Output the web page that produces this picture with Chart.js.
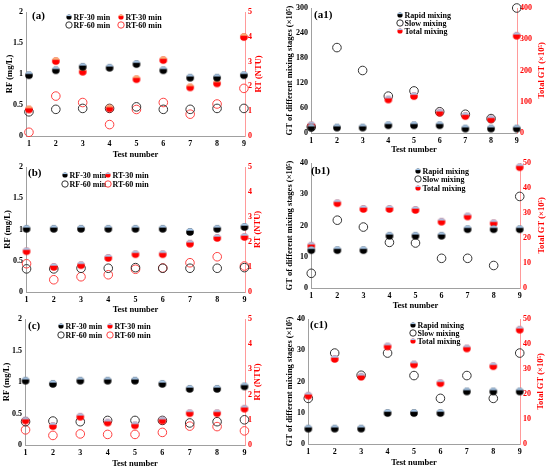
<!DOCTYPE html>
<html>
<head>
<meta charset="utf-8">
<script src="https://cdn.jsdelivr.net/npm/chart.js@4.4.1/dist/chart.umd.min.js"></script>
<style>
body{margin:0;background:#fff;width:550px;height:469px;position:relative;overflow:hidden}
canvas{position:absolute}
</style>
</head>
<body>
<canvas id="ca" width="265" height="160" style="left:0;top:0"></canvas>
<canvas id="ca1" width="273" height="155" style="left:275px;top:0"></canvas>
<canvas id="cb" width="264" height="160" style="left:0;top:155px"></canvas>
<canvas id="cb1" width="273" height="156" style="left:275px;top:155px"></canvas>
<canvas id="cc" width="264" height="159" style="left:0;top:310px"></canvas>
<canvas id="cc1" width="272" height="158" style="left:275px;top:310px"></canvas>
<script>
const testNo = [1, 2, 3, 4, 5, 6, 7, 8, 9];

// (a)
const rf30_a = [0.98, 1.06, 1.115, 1.10, 1.16, 1.06, 0.94, 0.94, 0.98];
const rf60_a = [0.39, 0.43, 0.445, 0.445, 0.47, 0.43, 0.43, 0.445, 0.445];
const rt30_a = [1.07, 3.02, 2.59, 1.11, 2.29, 3.06, 1.96, 2.12, 3.99];
const rt60_a = [0.15, 1.61, 1.35, 0.46, 1.07, 1.35, 0.88, 1.29, 1.92];
// (b)
const rf30_b = [1.01, 1.01, 1.01, 1.01, 1.01, 1.01, 0.96, 1.01, 1.04];
const rf60_b = [0.37, 0.37, 0.38, 0.38, 0.39, 0.38, 0.38, 0.38, 0.39];
const rt30_b = [1.63, 1.0, 1.07, 1.36, 1.51, 1.51, 1.93, 2.16, 2.2];
const rt60_b = [1.13, 0.49, 0.61, 0.69, 0.91, 0.96, 1.17, 1.41, 1.04];
// (c)
const rf30_c = [1.02, 0.97, 1.02, 1.02, 1.02, 0.97, 0.89, 0.89, 0.93];
const rf60_c = [0.37, 0.38, 0.37, 0.39, 0.39, 0.39, 0.35, 0.37, 0.40];
const rt30_c = [0.97, 0.75, 1.12, 0.89, 0.78, 0.97, 1.26, 1.26, 1.44];
const rt60_c = [0.6, 0.38, 0.44, 0.42, 0.42, 0.5, 0.75, 0.73, 0.56];
// (a1)
const rapid_a1 = [13, 13, 13, 18.5, 18.5, 18.5, 10.5, 10.5, 10.5];
const slow_a1 = [14.5, 205, 150, 88.5, 101, 51, 45, 34.6, 300];
const total_a1 = [24.7, null, null, 107, 118, 65, 54, 44, 311];
// (b1)
const rapid_b1 = [12.1, 12.1, 12.1, 16.7, 16.7, 16.7, 18.8, 18.8, 18.8];
const slow_b1 = [4.7, 21.7, 19.5, 14.6, 14.4, 9.5, 9.5, 7.2, 29.3];
const total_b1 = [16.9, 33.9, 31.6, 31.6, 31.2, 26.5, 28.6, 25.9, 48.3];
// (c1)
const rapid_c1 = [4.9, 4.9, 4.9, 9.9, 9.9, 9.9, 16.8, 16.8, 16.8];
const slow_c1 = [14.6, 29.1, 22, 29.1, 21.9, 14.6, 21.9, 14.6, 29.1];
const total_c1 = [19.3, 34.0, 26.9, 39.0, 31.8, 24.3, 38.2, 31.1, 45.7];

const FONT = "'Liberation Serif', 'Times New Roman', serif";
const BLUE = '#a9c9ea';
const PEACH = '#f7b27a';
const RED = '#ff0000';
const ORED = '#ff4040';

function dot(r, top, bot) {
    const c = document.createElement('canvas');
    const s = Math.ceil(r * 2) + 2;
    c.width = c.height = s;
    const g = c.getContext('2d');
    g.beginPath();
    g.arc(s / 2, s / 2, r, 0, Math.PI * 2);
    g.fillStyle = bot;
    g.fill();
    g.save();
    g.clip();
    g.fillStyle = top;
    g.fillRect(0, 0, s, s / 2 - r * 0.35);
    g.restore();
    return c;
}

const blackDot = dot(3.8, BLUE, '#000');
const redDotA = dot(3.8, PEACH, RED);
const redDot = dot(3.8, BLUE, RED);
const blackDotS = dot(2.6, BLUE, '#000');
const redDotSA = dot(2.6, PEACH, RED);
const redDotS = dot(2.6, BLUE, RED);

function pts(arr) {
    return testNo.map((x, i) => ({x: x, y: arr[i]})).filter(p => p.y !== null);
}

function filled(arr, img, axis) {
    return {data: pts(arr), yAxisID: axis, pointStyle: img, pointRadius: 4, showLine: false, clip: false};
}
function open(arr, col, axis) {
    return {data: pts(arr), yAxisID: axis, pointStyle: 'circle', pointRadius: 4.3,
        backgroundColor: 'rgba(0,0,0,0)', borderColor: col, pointBorderWidth: 1, showLine: false, clip: false};
}

// legend, panel label and right-hand axis title
const panelDeco = {
    id: 'panelDeco',
    afterDraw(chart, args, o) {
        const ctx = chart.ctx;
        ctx.save();
        ctx.textBaseline = 'middle';
        ctx.fillStyle = '#000';
        ctx.font = 'bold 11px ' + FONT;
        ctx.fillText(o.label, o.lx, o.ly);
        ctx.font = 'bold 8px ' + FONT;
        o.items.forEach(it => {
            if (it.img) {
                ctx.drawImage(it.img, it.x - it.img.width / 2, it.y - it.img.height / 2);
            } else {
                ctx.beginPath();
                ctx.arc(it.x, it.y, 3.2, 0, Math.PI * 2);
                ctx.strokeStyle = it.col;
                ctx.lineWidth = 1;
                ctx.stroke();
            }
            ctx.fillStyle = '#000';
            ctx.fillText(it.text, it.x + 4.5, it.y + 0.5);
        });
        const a = chart.chartArea;
        ctx.translate(chart.width - 6, (a.top + a.bottom) / 2 + (o.rdy || 0));
        ctx.rotate(-Math.PI / 2);
        ctx.textAlign = 'center';
        ctx.fillStyle = RED;
        ctx.font = 'bold 8.5px ' + FONT;
        ctx.fillText(o.rtitle, 0, 0);
        ctx.restore();
    }
};

function makeChart(id, cfg) {
    new Chart(document.getElementById(id), {
        type: 'scatter',
        data: {datasets: cfg.datasets},
        options: {
            responsive: false,
            animation: false,
            events: [],
            layout: {padding: {top: cfg.padTop, left: 0, right: 0, bottom: 0}},
            plugins: {
                legend: {display: false},
                tooltip: {enabled: false},
                panelDeco: cfg.deco
            },
            scales: {
                x: {
                    type: 'linear', min: cfg.xmin, max: cfg.xmax,
                    afterBuildTicks: s => { s.ticks = testNo.map(v => ({value: v})); },
                    afterFit: s => { s.height = cfg.H; },
                    grid: {display: false, drawTicks: false},
                    border: {display: true, color: '#a0a0a0', width: 1},
                    ticks: {color: '#000', padding: 3, font: {family: FONT, size: 8, weight: 'bold'}},
                    title: {display: true, text: 'Test number', color: '#000', padding: 0,
                        font: {family: FONT, size: 8.5, weight: 'bold'}}
                },
                y: {
                    position: 'left', min: 0, max: cfg.ymax,
                    afterFit: s => { s.width = cfg.W1; },
                    grid: {display: false, drawTicks: false},
                    border: {display: true, color: '#a0a0a0', width: 1},
                    ticks: {stepSize: cfg.ystep, color: '#000', padding: 3,
                        font: {family: FONT, size: 8, weight: 'bold'}, callback: v => String(v)},
                    title: {display: true, text: cfg.ytitle, color: '#000', padding: {top: cfg.tpad},
                        font: {family: FONT, size: 8.5, weight: 'bold'}}
                },
                y2: {
                    position: 'right', min: 0, max: cfg.y2max,
                    afterFit: s => { s.width = cfg.W2; },
                    grid: {display: false, drawTicks: false},
                    border: {display: true, color: '#ff9a9a', width: 1},
                    ticks: {stepSize: cfg.y2step, color: RED, padding: 3,
                        font: {family: FONT, size: 8, weight: 'bold'}}
                }
            }
        },
        plugins: [panelDeco]
    });
}

function leftLegend(label, lx, ly, c1, c2, r1, r2, rDot, rDotS) {
    return {
        label: label, lx: lx, ly: ly, rtitle: 'RT (NTU)',
        items: [
            {x: c1, y: r1, img: blackDotS, text: 'RF-30 min'},
            {x: c2, y: r1, img: rDotS, text: 'RT-30 min'},
            {x: c1, y: r2, col: '#333', text: 'RF-60 min'},
            {x: c2, y: r2, col: ORED, text: 'RT-60 min'}
        ]
    };
}
function rightLegend(label, lx, ly, cx, r1, r2, r3) {
    return {
        label: label, lx: lx, ly: ly, rtitle: 'Total GT (×10⁵)',
        items: [
            {x: cx, y: r1, img: blackDotS, text: 'Rapid mixing'},
            {x: cx, y: r2, col: '#333', text: 'Slow mixing'},
            {x: cx, y: r3, img: redDotS, text: 'Total mixing'}
        ]
    };
}

const GT_TITLE = 'GT of different mixing stages (×10⁵)';

makeChart('ca', {
    padTop: 12, H: 24, W1: 26, W2: 20, tpad: 5, xmin: 0.89, xmax: 9.04,
    ymax: 2, ystep: 0.5, y2max: 5, y2step: 1, ytitle: 'RF (mg/L)',
    deco: leftLegend('(a)', 32, 16, 69, 121, 17, 25, redDotA, redDotSA),
    datasets: [filled(rf30_a, blackDot, 'y'), filled(rt30_a, redDotA, 'y2'),
        open(rf60_a, '#333', 'y'), open(rt60_a, ORED, 'y2')]
});
makeChart('cb', {
    padTop: 12, H: 23, W1: 26, W2: 19, tpad: 3, xmin: 0.98, xmax: 9.02,
    ymax: 2, ystep: 0.5, y2max: 5, y2step: 1, ytitle: 'RF (mg/L)',
    deco: leftLegend('(b)', 28, 18, 65, 108, 20, 29, redDot, redDotS),
    datasets: [filled(rf30_b, blackDot, 'y'), filled(rt30_b, redDot, 'y2'),
        open(rf60_b, '#333', 'y'), open(rt60_b, ORED, 'y2')]
});
makeChart('cc', {
    padTop: 9, H: 24, W1: 25, W2: 19, tpad: 2, xmin: 0.98, xmax: 9.02,
    ymax: 2, ystep: 0.5, y2max: 5, y2step: 1, ytitle: 'RF (mg/L)',
    deco: leftLegend('(c)', 28, 16, 61, 110, 16, 25, redDot, redDotS),
    datasets: [filled(rf30_c, blackDot, 'y'), filled(rt30_c, redDot, 'y2'),
        open(rf60_c, '#333', 'y'), open(rt60_c, ORED, 'y2')]
});
makeChart('ca1', {
    padTop: 8, H: 22, W1: 36, W2: 31, tpad: 10, xmin: 0.99, xmax: 9.01,
    ymax: 300, ystep: 60, y2max: 400, y2step: 100, ytitle: GT_TITLE,
    deco: rightLegend('(a1)', 39, 15, 125, 15, 23, 31),
    datasets: [filled(rapid_a1, blackDot, 'y'), filled(total_a1, redDot, 'y2'),
        open(slow_a1, '#333', 'y')]
});
makeChart('cb1', {
    padTop: 8, H: 23, W1: 36, W2: 28, tpad: 10, xmin: 0.99, xmax: 9.01,
    ymax: 40, ystep: 10, y2max: 50, y2step: 10, ytitle: GT_TITLE,
    deco: rightLegend('(b1)', 36, 16, 143, 16, 24, 33),
    datasets: [filled(rapid_b1, blackDot, 'y'), filled(total_b1, redDot, 'y2'),
        open(slow_b1, '#333', 'y')]
});
makeChart('cc1', {
    padTop: 9, H: 24, W1: 33, W2: 27, tpad: 10, xmin: 0.99, xmax: 9.01,
    ymax: 40, ystep: 10, y2max: 50, y2step: 10, ytitle: GT_TITLE,
    deco: rightLegend('(c1)', 35, 15, 138, 15, 23, 31),
    datasets: [filled(rapid_c1, blackDot, 'y'), filled(total_c1, redDot, 'y2'),
        open(slow_c1, '#333', 'y')]
});
</script>
</body>
</html>
